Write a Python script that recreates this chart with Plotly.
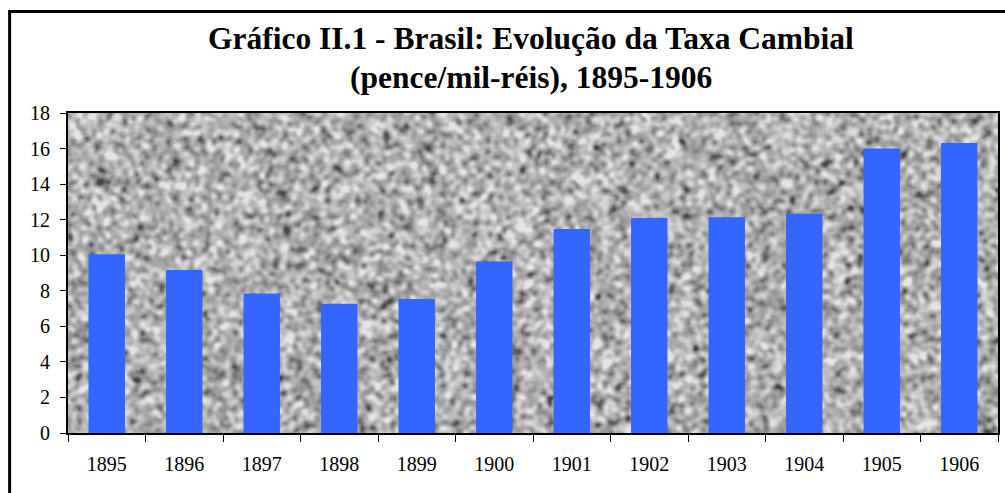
import base64
import struct
import zlib

import numpy as np
import plotly.graph_objects as go

# ---- data ----
years = ["1895", "1896", "1897", "1898", "1899", "1900",
         "1901", "1902", "1903", "1904", "1905", "1906"]
rates = [10.05, 9.17, 7.85, 7.27, 7.54, 9.64,
         11.47, 12.09, 12.13, 12.33, 16.01, 16.31]
y_ticks = [0, 2, 4, 6, 8, 10, 12, 14, 16, 18]
title_line1 = "Gráfico II.1 - Brasil: Evolução da Taxa Cambial"
title_line2 = "(pence/mil-réis), 1895-1906"

# ---- layout geometry (pixels) ----
W, H = 1005, 493
L, R, T, B = 68, 1000, 113, 433
pw, ph = R - L, B - T


# ---- decorative granite texture for the plot background ----
def granite_png(w, h):
    rng = np.random.default_rng(11)
    hh, ww = h // 2 + 6, w // 2 + 6
    a = rng.standard_normal((hh, ww))
    a = (a + np.roll(a, 1, 0) + np.roll(a, -1, 0)) / 3.0
    a = (a + np.roll(a, 1, 1) + np.roll(a, -1, 1)) / 3.0
    a = np.repeat(np.repeat(a, 2, axis=0), 2, axis=1)
    for _ in range(2):
        a = (a + np.roll(a, 1, 0) + np.roll(a, -1, 0)) / 3.0
        a = (a + np.roll(a, 1, 1) + np.roll(a, -1, 1)) / 3.0
    a = a[4:4 + h, 4:4 + w]
    a = (a - a.mean()) / a.std()
    v = 176 + 25 * a - 14 * np.clip(-a - 1.2, 0, None)
    img = np.clip(v, 70, 228).astype(np.uint8)
    raw = b"".join(b"\x00" + img[r].tobytes() for r in range(h))

    def chunk(tag, data):
        c = struct.pack(">I", len(data)) + tag + data
        return c + struct.pack(">I", zlib.crc32(tag + data) & 0xFFFFFFFF)

    png = b"\x89PNG\r\n\x1a\n"
    png += chunk(b"IHDR", struct.pack(">IIBBBBB", w, h, 8, 0, 0, 0, 0))
    png += chunk(b"IDAT", zlib.compress(raw, 9))
    png += chunk(b"IEND", b"")
    return "data:image/png;base64," + base64.b64encode(png).decode()


serif = "Liberation Serif"

fig = go.Figure(
    go.Bar(
        x=years,
        y=rates,
        marker=dict(color="#3366FF", line=dict(width=0)),
        width=0.47,
    )
)


def px_x(p):
    return (p - L) / pw


def px_y(p):
    return (B - p) / ph


title_font = dict(family=serif, size=31.5, color="black", weight="bold")

fig.update_layout(
    width=W,
    height=H,
    margin=dict(l=L, r=W - R, t=T, b=H - B, pad=0),
    paper_bgcolor="white",
    plot_bgcolor="rgba(0,0,0,0)",
    showlegend=False,
    font=dict(family=serif, color="black", size=20),
    images=[dict(
        source=granite_png(pw, ph),
        xref="paper", yref="paper",
        x=0, y=1, sizex=1, sizey=1,
        xanchor="left", yanchor="top",
        sizing="stretch", layer="below",
    )],
    annotations=[
        dict(text=title_line1, xref="paper", yref="paper",
             x=px_x(532), y=px_y(58.5), xanchor="center", yanchor="bottom",
             showarrow=False, font=title_font),
        dict(text=title_line2, xref="paper", yref="paper",
             x=px_x(532), y=px_y(96.5), xanchor="center", yanchor="bottom",
             showarrow=False, font=title_font),
    ],
    shapes=[
        dict(type="line", xref="paper", yref="paper",
             x0=px_x(9.5), x1=px_x(9.5), y0=px_y(11.5), y1=px_y(520),
             line=dict(color="black", width=3)),
        dict(type="line", xref="paper", yref="paper",
             x0=px_x(8), x1=px_x(1040), y0=px_y(11.5), y1=px_y(11.5),
             line=dict(color="black", width=3)),
    ],
)

fig.update_xaxes(
    type="category",
    tickson="boundaries",
    ticks="outside",
    ticklen=7,
    tickwidth=1,
    tickcolor="black",
    showline=True,
    linecolor="black",
    linewidth=2,
    mirror=True,
    showgrid=False,
    ticklabelstandoff=12,
    tickfont=dict(family=serif, size=20, color="black"),
)
fig.update_yaxes(
    range=[0, 18],
    tickvals=y_ticks,
    ticks="outside",
    ticklen=6,
    tickwidth=1,
    tickcolor="black",
    showline=True,
    linecolor="black",
    linewidth=2,
    mirror=True,
    showgrid=False,
    zeroline=False,
    ticklabelstandoff=6,
    tickfont=dict(family=serif, size=20, color="black"),
)

fig.write_html("out.html",
               config={"displayModeBar": False},
               post_script="document.body.style.margin='0';"
                           "document.body.style.padding='0';")
